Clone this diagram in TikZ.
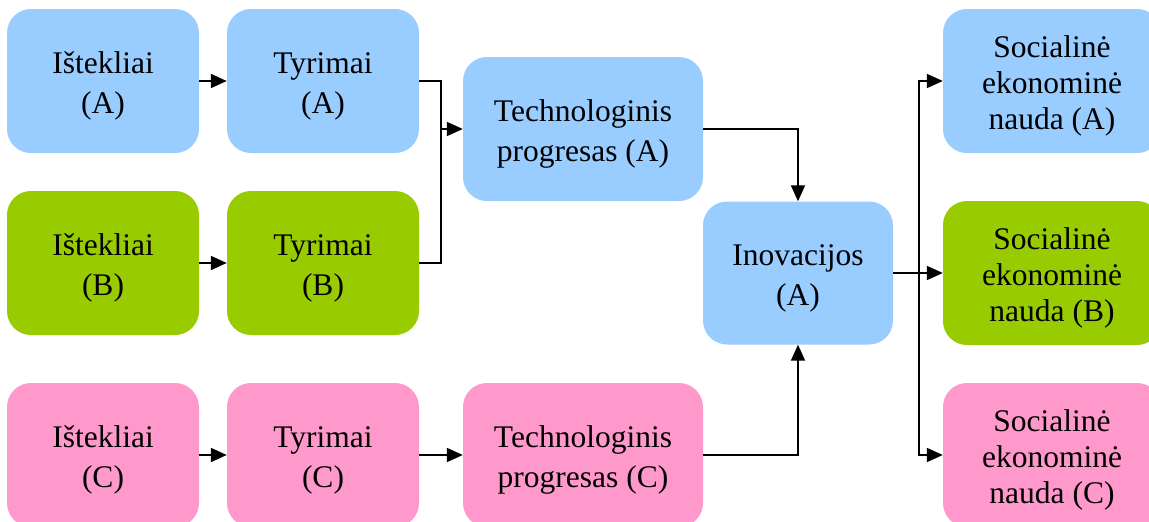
\documentclass[tikz,border=0pt]{standalone}
\usepackage{fontspec}
\setmainfont{Liberation Serif}
\usetikzlibrary{arrows.meta}

\definecolor{boxblue}{HTML}{99CCFF}
\definecolor{boxgreen}{HTML}{99CC00}
\definecolor{boxpink}{HTML}{FF99CC}

\tikzset{
  stage/.style={rounded corners=24pt, inner sep=0pt, minimum width=192pt,
    minimum height=144pt},
  wide/.style={stage, minimum width=240pt},
  benefit/.style={stage, minimum width=218pt},
  fa/.style={fill=boxblue},
  fb/.style={fill=boxgreen},
  fc/.style={fill=boxpink},
  caption/.style={inner sep=0pt, align=center, yshift=-5pt,
    font=\fontsize{31.5}{40}\selectfont},
  caption3/.style={caption, font=\fontsize{31.5}{36}\selectfont},
  link/.style={line width=1.9pt},
  arr/.style={link, -{Triangle[length=16pt,width=14pt]}},
}

\begin{document}
\begin{tikzpicture}[x=1pt, y=-1pt]
  \clip (0,0) rectangle (1149,522);
  \fill[white] (0,0) rectangle (1149,522);

  % row A
  \node[stage, fa] (ia) at (103,81) {};
  \node[stage, fa] (ta) at (323,81) {};
  \node[wide, fa] (pa) at (583,129) {};

  % row B
  \node[stage, fb] (ib) at (103,263) {};
  \node[stage, fb] (tb) at (323,263) {};

  % row C
  \node[stage, fc] (ic) at (103,455) {};
  \node[stage, fc] (tc) at (323,455) {};
  \node[wide, fc] (pc) at (583,455) {};

  % innovation
  \node[stage, fa, minimum width=190pt, minimum height=143pt] (inov) at (798,273) {};

  % socio-economic benefits
  \node[benefit, fa] (sa) at (1052,81) {};
  \node[benefit, fb] (sb) at (1052,273) {};
  \node[benefit, fc] (sc) at (1052,455) {};

  % box captions
  \node[caption] (ia-t) at (ia.center) {Ištekliai\\(A)};
  \node[caption] (ta-t) at (ta.center) {Tyrimai\\(A)};
  \node[caption] (pa-t) at (pa.center) {Technologinis\\progresas (A)};
  \node[caption] (ib-t) at (ib.center) {Ištekliai\\(B)};
  \node[caption] (tb-t) at (tb.center) {Tyrimai\\(B)};
  \node[caption] (ic-t) at (ic.center) {Ištekliai\\(C)};
  \node[caption] (tc-t) at (tc.center) {Tyrimai\\(C)};
  \node[caption] (pc-t) at (pc.center) {Technologinis\\progresas (C)};
  \node[caption] (inov-t) at (inov.center) {Inovacijos\\(A)};
  \node[caption3] (sa-t) at (sa.center) {Socialinė\\ekonominė\\nauda (A)};
  \node[caption3] (sb-t) at (sb.center) {Socialinė\\ekonominė\\nauda (B)};
  \node[caption3] (sc-t) at (sc.center) {Socialinė\\ekonominė\\nauda (C)};

  % junction points
  \coordinate (jr) at (441,129);
  \coordinate (js) at (919,273);

  % connectors
  \draw[arr] (ia) -- (ta);
  \draw[arr] (ib) -- (tb);
  \draw[arr] (ic) -- (tc);
  \draw[arr] (tc) -- (pc);

  \draw[link] (ta.east) -| (jr);
  \draw[link] (tb.east) -| (jr);
  \draw[arr] (jr) -- (pa.west);

  \draw[arr] (pa.east) -| (inov.north);
  \draw[arr] (pc.east) -| (inov.south);

  \draw[link] (inov.east) -- (js);
  \draw[arr] (js) |- (sa.west);
  \draw[arr] (js) -- (sb.west);
  \draw[arr] (js) |- (sc.west);
\end{tikzpicture}
\end{document}
